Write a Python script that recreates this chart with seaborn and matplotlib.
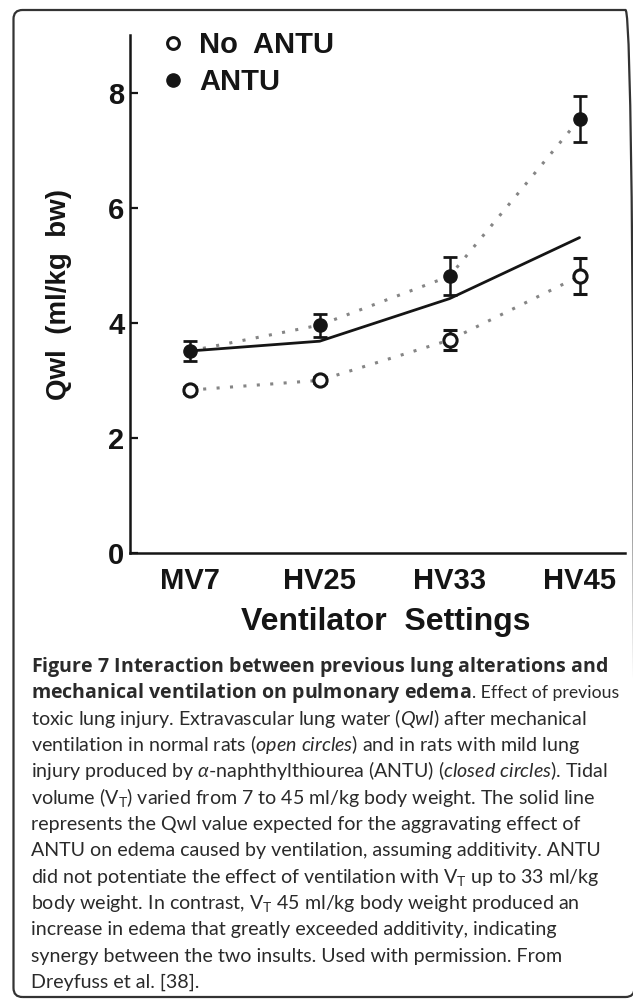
import numpy as np
import pandas as pd
import matplotlib
matplotlib.use("Agg")
import matplotlib.pyplot as plt
import seaborn as sns
from matplotlib.patches import FancyBboxPatch
from matplotlib.lines import Line2D

# values
settings = ["MV7", "HV25", "HV33", "HV45"]
no_antu = [2.83, 3.00, 3.70, 4.81]
no_antu_err = [0.05, 0.05, 0.18, 0.31]
antu = [3.51, 3.96, 4.81, 7.54]
antu_err = [0.18, 0.20, 0.33, 0.40]
additive = [3.51, 3.68, 4.42, 5.48]

# caption lines, each a list of text runs drawn one after another
caption = [
    [r"$\mathbf{Figure\ 7\ Interaction\ between\ previous\ lung\ alterations\ and}$"],
    [r"$\mathbf{mechanical\ ventilation\ on\ pulmonary\ edema}$", ". Effect of previous"],
    [r"toxic lung injury. Extravascular lung water ($\mathit{Qwl}$) after mechanical"],
    [r"ventilation in normal rats ($\mathit{open\ circles}$) and in rats with mild lung"],
    [r"injury produced by $\alpha$-naphthylthiourea (ANTU) ($\mathit{closed\ circles}$). Tidal"],
    [r"volume (V$_\mathrm{T}$) varied from 7 to 45 ml/kg body weight. The solid line"],
    [r"represents the Qwl value expected for the aggravating effect of"],
    [r"ANTU on edema caused by ventilation, assuming additivity. ANTU"],
    [r"did not potentiate the effect of ventilation with V$_\mathrm{T}$ up to 33 ml/kg"],
    [r"body weight. In contrast, V$_\mathrm{T}$ 45 ml/kg body weight produced an"],
    [r"increase in edema that greatly exceeded additivity, indicating"],
    [r"synergy between the two insults. Used with permission. From"],
    [r"Dreyfuss et al. [38]."],
]

df = pd.DataFrame({
    "pos": np.arange(len(settings)),
    "setting": settings,
    "no_antu": no_antu,
    "antu": antu,
    "additive": additive,
})

sns.set_style("ticks")
plt.rcParams["font.family"] = ["Liberation Sans", "DejaVu Sans"]
plt.rcParams["mathtext.fontset"] = "custom"
plt.rcParams["mathtext.rm"] = "Lato"
plt.rcParams["mathtext.it"] = "Lato:italic"
plt.rcParams["mathtext.bf"] = "Open Sans:bold"

W, H = 633, 999
fig = plt.figure(figsize=(W / 100, H / 100), dpi=100)
ax = fig.add_axes([130 / W, 1 - 553 / H, 495 / W, 518 / H])

ink = "#151515"
dot_grey = "#858585"

# expected (additive) line and the two dotted series
sns.lineplot(data=df, x="pos", y="additive", ax=ax, color=ink, lw=2.0, zorder=2)
sns.lineplot(data=df, x="pos", y="no_antu", ax=ax, color=dot_grey, lw=2.2,
             linestyle=(0, (1, 3.4)), zorder=1)
sns.lineplot(data=df, x="pos", y="antu", ax=ax, color=dot_grey, lw=2.2,
             linestyle=(0, (1, 3.4)), zorder=1)

ax.errorbar(df["pos"], df["no_antu"], yerr=no_antu_err, fmt="o", ms=9.5,
            mfc="white", mec=ink, mew=2.2, ecolor=ink, elinewidth=1.8,
            capsize=5, capthick=2, zorder=4)
ax.errorbar(df["pos"], df["antu"], yerr=antu_err, fmt="o", ms=9.5,
            mfc=ink, mec=ink, ecolor=ink, elinewidth=1.8,
            capsize=5, capthick=2, zorder=4)

ax.set_xlim(-0.46, 3.35)
ax.set_ylim(0, 9)
ax.set_yticks([0, 2, 4, 6, 8])
ax.set_xticks(df["pos"])
ax.set_xticklabels(settings)
sns.despine(ax=ax)
for s in ["left", "bottom"]:
    ax.spines[s].set_linewidth(1.8)
    ax.spines[s].set_color(ink)
ax.tick_params(axis="y", direction="in", length=6, width=1.6, pad=4,
               labelsize=21, colors=ink)
ax.tick_params(axis="x", length=0, pad=10, labelsize=21, colors=ink)
for lab in ax.get_xticklabels() + ax.get_yticklabels():
    lab.set_fontweight("bold")

ax.set_xlabel("Ventilator  Settings", fontsize=23, fontweight="bold",
              color=ink, labelpad=9)
ax.xaxis.label.set_x(0.517)
ax.set_ylabel("Qwl  (ml/kg  bw)", fontsize=20, fontweight="bold", color=ink)
ax.yaxis.set_label_coords(-0.117, 0.5)

handles = [
    Line2D([], [], ls="none", marker="o", ms=8.5, mfc="white", mec=ink, mew=2.2),
    Line2D([], [], ls="none", marker="o", ms=9.5, mfc=ink, mec=ink),
]
fig.legend(handles, ["No  ANTU", "ANTU"], loc="upper left",
           bbox_to_anchor=(161 / W, 1 - 31 / H), frameon=False,
           prop={"family": "Liberation Sans", "weight": "bold", "size": 21},
           handlelength=0.8, handletextpad=0.5, labelspacing=0.32,
           borderpad=0, borderaxespad=0, labelcolor=ink)

# caption below the chart
renderer = fig.canvas.get_renderer()
base = 15.0
probe = fig.text(0, 0, caption[2][0], fontsize=base, family="Lato")
size = base * 558 / probe.get_window_extent(renderer).width
probe.remove()

left_px, right_px = 31, 618
for i, runs in enumerate(caption):
    y = 1 - (672 + 26.35 * i) / H
    x_px = left_px
    for run in runs:
        t = fig.text(x_px / W, y, run, fontsize=size, family="Lato",
                     color="#2a2a2a", va="baseline", ha="left")
        w = t.get_window_extent(renderer).width
        if x_px + w > right_px:
            t.set_fontsize(size * (right_px - x_px) / w)
            w = t.get_window_extent(renderer).width
        x_px += w

# rounded frame around the figure panel (right edge falls just off the image)
frame = FancyBboxPatch((13.5, 2), 621, 987, boxstyle="round,pad=0,rounding_size=9",
                       transform=None, fill=False, lw=1.6, ec="#333333")
fig.patches.append(frame)

fig.savefig("out.png", dpi=100)
